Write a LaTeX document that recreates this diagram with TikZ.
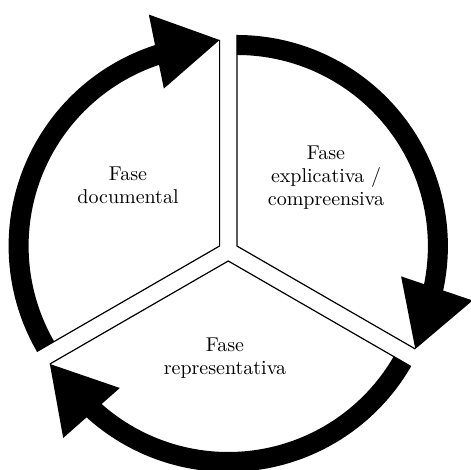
\documentclass[tikz,border=0pt]{standalone}
\usetikzlibrary{calc}
\tikzset{
  band/.style={line width=10pt},
  rim/.style={line width=0.6pt},
  phase/.style={align=center,font=\fontsize{10}{11.5}\selectfont}
}

\begin{document}
\begin{tikzpicture}[x=0.5pt,y=0.5pt]
    \useasboundingbox (0,0) rectangle (470,470);

    % Apex of each of the three pulled-apart sectors
    \coordinate (doc)  at (219.6,224);
    \coordinate (expl) at (236.9,224);
    \coordinate (repr) at (228.25,209);

    % Each sector: thin radial sides, thick rim, arrow head at the clockwise end
    \foreach \p/\s/\e in {doc/210/90, expl/90/-30, repr/-30/-150}{
        \draw[rim] ($(\p)+(\s:211)$) -- (\p) -- ($(\p)+(\e:206)$);
        \draw[band] ($(\p)+(\s:201)$) arc[start angle=\s, end angle=\e+17, radius=201];
        \fill ($(\p)+(\e:206)$) -- ($(\p)+(\e+17:242)$) -- ($(\p)+(\e+19.5:167)$) -- cycle;
    }

    % Phase names
    \node[phase] (docname)  at (128,285) {Fase\\documental};
    \node[phase] (explname) at (326,292) {Fase\\explicativa /\\compreensiva};
    \node[phase] (reprname) at (225,112) {Fase\\representativa};
\end{tikzpicture}
\end{document}
